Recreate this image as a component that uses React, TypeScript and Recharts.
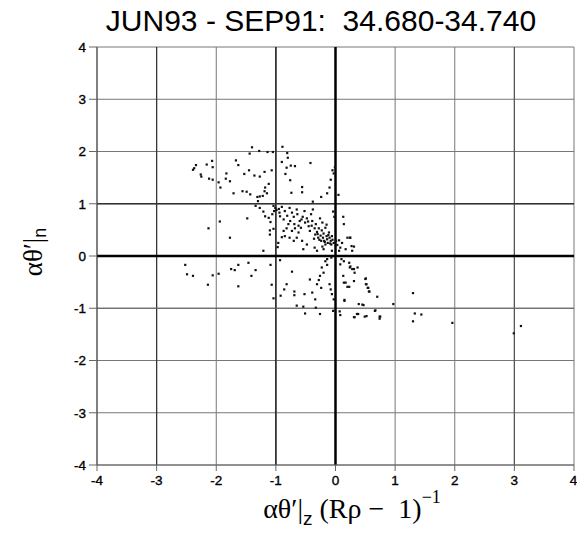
import React from 'react';
import { ScatterChart, Scatter, XAxis, YAxis, CartesianGrid, ReferenceLine } from 'recharts';

const titleText = 'JUN93 - SEP91:\u00A0\u00A034.680-34.740';
const axisTicks = [-4, -3, -2, -1, 0, 1, 2, 3, 4];

const upperPoints: [number, number][] = [
  [-1.40, 2.08], [-1.28, 2.01], [-1.44, 1.96], [-1.14, 1.99], [-1.05, 1.99], [-0.89, 2.09], [-0.81, 1.97],
  [-0.80, 1.88], [-0.90, 1.80], [-0.75, 1.73], [-0.68, 1.72], [-0.82, 1.69], [-0.84, 1.57], [-0.42, 1.78],
  [-0.01, 1.70], [-0.05, 1.64], [-0.03, 1.58], [-0.08, 1.46], [-0.10, 1.31], [-0.14, 1.20], [-0.24, 1.13],
  [-0.38, 1.04], [-0.56, 1.32], [-0.56, 1.22], [-0.74, 1.21], [-0.76, 1.45], [0.05, 1.17],
  [-2.34, 1.74], [-2.37, 1.68], [-2.39, 1.65], [-2.26, 1.56], [-2.25, 1.52], [-2.16, 1.75], [-2.07, 1.82],
  [-2.06, 1.70], [-2.12, 1.48], [-2.06, 1.46], [-1.96, 1.41], [-1.93, 1.31], [-1.83, 1.58], [-1.84, 1.48],
  [-1.77, 1.43], [-1.67, 1.83], [-1.63, 1.74], [-1.53, 1.57], [-1.45, 1.64], [-1.36, 1.54], [-1.27, 1.52],
  [-1.19, 1.61], [-1.07, 1.64], [-1.12, 1.38], [-1.18, 1.31], [-1.19, 1.24], [-1.15, 1.20], [-1.22, 1.15],
  [-1.27, 1.14], [-1.31, 1.13], [-1.43, 1.18], [-1.56, 1.24], [-1.49, 1.23], [-1.71, 1.20], [-1.30, 1.05],
];

const middlePoints: [number, number][] = [
  [-1.34, 0.96], [-1.27, 0.92], [-1.21, 0.85], [-1.18, 0.76], [-1.12, 0.73], [-1.09, 0.65], [-1.04, 0.96],
  [-1.01, 0.92], [-1.03, 0.86], [-0.99, 0.88], [-0.94, 0.83], [-0.93, 0.76], [-0.90, 0.94], [-0.87, 0.70],
  [-0.85, 0.86], [-0.81, 0.77], [-0.77, 0.92], [-0.76, 0.67], [-0.73, 0.83], [-0.70, 0.75], [-0.69, 0.61],
  [-0.65, 0.89], [-0.64, 0.80], [-0.60, 0.67], [-0.58, 0.54], [-0.55, 0.75], [-0.52, 0.86], [-0.51, 0.64],
  [-0.48, 0.72], [-0.45, 0.57], [-0.43, 0.48], [-0.41, 0.80], [-0.39, 0.67], [-0.38, 0.89], [-0.35, 0.53],
  [-0.34, 0.41], [-0.33, 0.61], [-0.31, 0.46], [-0.29, 0.35], [-0.28, 0.53], [-0.26, 0.72], [-0.25, 0.39],
  [-0.24, 0.29], [-0.23, 0.49], [-0.22, 0.64], [-0.21, 0.35], [-0.20, 0.43], [-0.19, 0.29], [-0.17, 0.54],
  [-0.17, 0.22], [-0.15, 0.38], [-0.14, 0.32], [-0.13, 0.25], [-0.11, 0.45], [-0.10, 0.35], [-0.08, 0.29],
  [-0.07, 0.22], [-0.06, 0.38], [-0.05, 0.31], [-0.03, 0.25], [-0.04, 0.85], [-0.02, 0.75], [0.01, 0.29],
  [0.03, 0.21], [0.06, 0.30], [0.08, 0.16], [0.11, 0.25], [0.13, 0.75], [0.14, 0.61], [0.20, 0.35],
  [0.24, 0.35], [0.27, 0.19], [0.31, 0.18], [0.28, 0.10], [0.17, 0.13], [0.06, 0.10], [-0.06, 0.10],
  [-0.20, 0.13], [-0.31, 0.10], [-0.35, 0.16], [-0.48, 0.22], [-0.54, 0.13], [-0.56, 0.29], [-0.65, 0.35],
  [-0.70, 0.29], [-0.77, 0.35], [-0.85, 0.38], [-0.90, 0.36], [-0.96, 0.25], [-0.97, 0.17], [-1.04, 0.52],
  [-1.10, 0.49], [-1.21, 0.10], [-1.48, 0.72], [-1.77, 0.35], [-1.94, 0.66], [-2.13, 0.53], [-0.79, 0.61],
  [-0.73, 0.48], [-0.68, 0.53], [-0.62, 0.45], [-0.82, 0.53], [-0.87, 0.48], [-1.10, 0.41], [0.25, 0.35],
  [-0.27, 0.31], [-0.18, 0.27], [-0.12, 0.40], [-0.09, 0.24], [-0.30, 0.42], [-0.36, 0.33], [-0.22, 0.18],
  [-0.40, 0.58], [-0.46, 0.66], [-0.57, 0.70], [-0.62, 0.58], [-0.95, 0.90], [-1.06, 0.80], [-0.15, 0.60],
];

const lowerPoints: [number, number][] = [
  [-2.52, -0.17], [-2.49, -0.35], [-2.39, -0.38], [-2.14, -0.55], [-2.06, -0.37], [-1.96, -0.34], [-1.75, -0.25],
  [-1.69, -0.27], [-1.63, -0.17], [-1.63, -0.58], [-1.46, -0.13], [-1.41, -0.38], [-1.34, -0.27], [-1.09, -0.17],
  [-1.07, -0.55], [-1.04, -0.81], [-0.93, -0.08], [-0.92, -0.76], [-0.86, -0.64], [-0.82, -0.54], [-0.73, -0.30],
  [-0.69, -0.68], [-0.69, -0.75], [-0.65, -0.95], [-0.54, -0.97], [-0.52, -0.73], [-0.43, -0.45], [-0.39, -0.70],
  [-0.34, -0.83], [-0.33, -0.99], [-0.31, -0.54], [-0.28, -0.46], [-0.26, -0.38], [-0.24, -0.61], [-0.23, -0.22],
  [-0.20, -0.32], [-0.17, -0.10], [-0.14, -0.17], [-0.10, -0.54], [-0.08, -0.64], [-0.06, -0.73], [-0.04, -1.05],
  [-0.03, -0.83], [-0.51, -1.10], [-0.26, -1.11], [0.07, -1.06], [0.08, -1.13], [0.14, -0.10], [0.13, -0.38],
  [0.14, -0.51], [0.15, -0.86], [0.20, -0.59], [0.23, -0.59], [0.24, -0.22], [0.28, -0.25], [0.31, -0.48],
  [0.32, -1.17], [0.37, -0.22], [0.38, -1.11], [0.39, -0.92], [0.47, -0.94], [0.51, -0.43], [0.52, -0.54],
  [0.54, -0.61], [0.56, -0.68], [0.52, -1.15], [0.66, -1.05], [0.70, -0.78], [0.75, -1.16], [0.74, -1.20],
  [0.10, -0.06], [-0.07, -0.03], [-0.14, -0.06], [0.08, -0.16], [0.23, -0.13], [0.25, -0.20], [0.31, -0.25],
  [0.32, -0.32], [0.50, -0.44], [0.51, -0.54], [0.55, -0.61], [0.57, -0.68], [0.45, -0.93], [0.67, -1.04],
  [0.74, -1.16], [0.49, -1.16], [0.36, -1.11], [0.31, -1.17], [0.15, -0.84], [0.17, -0.51],
];

const rightPoints: [number, number][] = [
  [1.30, -0.71], [0.97, -0.92], [1.33, -1.10], [1.44, -1.12], [1.30, -1.25], [1.96, -1.28], [3.11, -1.34], [2.99, -1.48],
];

const toRows = (pts: [number, number][]) => pts.map(([x, y]) => ({ x, y }));
const allData = [...toRows(upperPoints), ...toRows(middlePoints), ...toRows(lowerPoints), ...toRows(rightPoints)];

const Dot = (props: any) => {
  const { cx, cy } = props;
  if (cx == null || cy == null) return null;
  return <rect x={cx - 1.1} y={cy - 1.1} width={2.2} height={2.2} fill="#111" />;
};

const tickStyle = {
  fontFamily: 'Liberation Sans, Arial, sans-serif',
  fontSize: 13.5,
  fill: '#000',
  stroke: '#000',
  strokeWidth: 0.35,
};
const serif = 'Liberation Serif, DejaVu Serif, serif';
const sans = 'Liberation Sans, Arial, sans-serif';

export default function App() {
  return (
    <div style={{ position: 'absolute', left: 0, top: 0, width: 577, height: 546, background: '#fff' }}>
      <ScatterChart width={577} height={546} margin={{ top: 47, right: 3, bottom: 51, left: 37 }}>
        <CartesianGrid stroke="#777" strokeWidth={1} horizontalValues={axisTicks} verticalValues={axisTicks} />
        <XAxis
          type="number"
          dataKey="x"
          domain={[-4, 4]}
          ticks={axisTicks}
          height={30}
          tickSize={6}
          tickMargin={4}
          axisLine={{ stroke: '#666' }}
          tickLine={{ stroke: '#666' }}
          tick={tickStyle}
          allowDataOverflow
        />
        <YAxis
          type="number"
          dataKey="y"
          domain={[-4, 4]}
          ticks={axisTicks}
          width={60}
          tickSize={8}
          tickMargin={3}
          axisLine={{ stroke: '#444' }}
          tickLine={{ stroke: '#666' }}
          tick={tickStyle}
          allowDataOverflow
        />
        <ReferenceLine x={-3} stroke="#333" strokeWidth={1.2} />
        <ReferenceLine x={-1} stroke="#222" strokeWidth={1.5} />
        <ReferenceLine x={3} stroke="#555" strokeWidth={1.2} />
        <ReferenceLine y={1} stroke="#333" strokeWidth={1.3} />
        <ReferenceLine y={-1} stroke="#666" strokeWidth={1.2} />
        <ReferenceLine x={0} stroke="#000" strokeWidth={2.5} />
        <ReferenceLine y={0} stroke="#000" strokeWidth={2.5} />
        <Scatter data={allData} shape={Dot} isAnimationActive={false} />
      </ScatterChart>
      <svg width={577} height={546} style={{ position: 'absolute', left: 0, top: 0, pointerEvents: 'none' }}>
        <text x={321} y={31} textAnchor="middle" fontFamily={sans} fontSize={30} fill="#000">
          {titleText}
        </text>
        <text x={352} y={518} textAnchor="middle" fontFamily={serif} fontSize={28} fill="#000">
          {'αθ′|'}
          <tspan fontFamily={sans} fontSize={19} dy={7}>z</tspan>
          <tspan dy={-7}>{'\u00A0(Rρ'}</tspan>
          <tspan>{' \u2212\u00A0\u00A01)'}</tspan>
          <tspan fontSize={18} dy={-15}>−1</tspan>
        </text>
        <text
          transform="translate(42,252) rotate(-90)"
          textAnchor="middle"
          fontFamily={serif}
          fontSize={27}
          fill="#000"
        >
          {'αθ′|'}
          <tspan fontFamily={sans} fontSize={18} dy={4}>n</tspan>
        </text>
      </svg>
    </div>
  );
}
